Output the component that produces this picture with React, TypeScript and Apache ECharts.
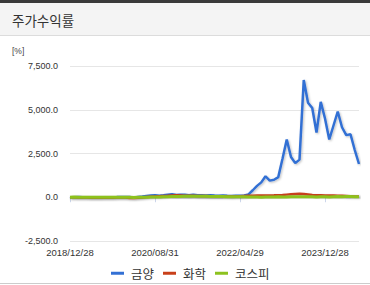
import React, { useEffect, useRef } from "react";
import * as echarts from "echarts";

const dates: string[] = [
  "2018/12/28",
  "2019/01/31", "2019/02/28", "2019/03/29", "2019/04/30", "2019/05/31", "2019/06/28",
  "2019/07/31", "2019/08/30", "2019/09/30", "2019/10/31", "2019/11/29", "2019/12/30",
  "2020/01/31", "2020/02/28", "2020/03/31", "2020/04/29", "2020/05/29", "2020/06/30",
  "2020/07/31", "2020/08/31", "2020/09/29", "2020/10/30", "2020/11/30", "2020/12/30",
  "2021/01/29", "2021/02/26", "2021/03/31", "2021/04/30", "2021/05/31", "2021/06/30",
  "2021/07/30", "2021/08/31", "2021/09/30", "2021/10/29", "2021/11/30", "2021/12/30",
  "2022/01/28", "2022/02/28", "2022/03/31", "2022/04/29", "2022/05/31", "2022/06/30",
  "2022/07/29", "2022/08/31", "2022/09/30", "2022/10/31", "2022/11/30", "2022/12/29",
  "2023/01/31", "2023/02/28", "2023/03/31", "2023/04/28", "2023/05/31", "2023/06/30",
  "2023/07/31", "2023/08/31", "2023/09/27", "2023/10/31", "2023/11/30", "2023/12/28",
  "2024/01/31", "2024/02/29", "2024/03/29", "2024/04/30", "2024/05/31", "2024/06/28",
  "2024/07/31", "2024/08/30",
];

const kumyang: number[] = [
  0, 3, 8, 5, -2, -8, -12, -10, -5, 2, 6, 10,
  15, 20, 10, -10, 15, 40, 70, 100, 120, 90, 110, 150,
  170, 130, 150, 140, 110, 150, 120, 110, 100, 120, 95, 90,
  100, 80, 75, 90, 80, 100, 160, 400, 650, 850, 1200, 950,
  1000, 1150, 2200, 3300, 2300, 1950, 2150, 6700, 5400, 5100, 3700, 5450,
  4500, 3300, 4100, 4900, 4000, 3550, 3600, 2700, 1900,
];

const chemical: number[] = [
  0, -5, -10, -15, -20, -25, -30, -28, -32, -30, -25, -20,
  -18, -20, -40, -50, -30, -10, 10, 30, 50, 60, 70, 80,
  100, 110, 100, 90, 85, 80, 75, 70, 65, 60, 55, 50,
  55, 50, 45, 50, 60, 70, 80, 90, 95, 100, 95, 105,
  110, 120, 130, 150, 170, 190, 200, 190, 160, 130, 110, 120,
  105, 95, 100, 85, 80, 70, 60, 50, 40,
];

const kospi: number[] = [
  0, 8, 7, 6, 5, 0, 3, -3, -4, 1, 0, 3,
  5, -1, -5, -17, -5, -1, 5, 15, 14, 16, 27, 35,
  48, 44, 48, 52, 55, 57, 60, 56, 60, 48, 44, 47,
  46, 31, 32, 35, 32, 30, 17, 20, 20, 6, 16, 20,
  15, 22, 18, 21, 24, 27, 26, 30, 32, 26, 17, 23,
  27, 20, 29, 38, 32, 36, 37, 33, 30,
];

const seriesNames = ["금양", "화학", "코스피"];
const seriesColors = ["#3370d4", "#c8401a", "#8dc21f"];
const yTicks = { min: -2500, max: 7500, interval: 2500 };

export default function App() {
  const ref = useRef<HTMLDivElement>(null);
  useEffect(() => {
    document.body.style.margin = "0";
    const chart = echarts.init(ref.current!, undefined, { renderer: "svg" });
    const dataSets = [kumyang, chemical, kospi];
    const shadow = {
      shadowColor: "rgba(0,0,0,0.25)",
      shadowBlur: 2,
      shadowOffsetX: 1,
      shadowOffsetY: 1,
    };
    chart.setOption({
      animation: false,
      graphic: [
        { type: "rect", shape: { x: 0, y: 0, width: 370, height: 3 }, style: { fill: "#3a3a3a" }, silent: true },
        { type: "rect", shape: { x: 0, y: 3, width: 370, height: 32 }, style: { fill: "#f4f4f4" }, silent: true },
        { type: "line", shape: { x1: 0, y1: 35.5, x2: 370, y2: 35.5 }, style: { stroke: "#dcdcdc", lineWidth: 1 }, silent: true },
        {
          type: "text", x: 12, y: 20,
          style: { text: "주가수익률", fontSize: 13.5, fill: "#333", verticalAlign: "middle", fontFamily: "Noto Sans CJK KR", letterSpacing: 0.5 },
          silent: true,
        },
        {
          type: "text", x: 12, y: 51,
          style: { text: "[%]", fontSize: 8.5, fill: "#444", verticalAlign: "middle", fontFamily: "Liberation Sans" },
          silent: true,
        },
        { type: "line", shape: { x1: 0, y1: 283.5, x2: 370, y2: 283.5 }, style: { stroke: "#cccccc", lineWidth: 1 }, silent: true },
      ],
      grid: { left: 70, right: 11, top: 66, bottom: 44, containLabel: false },
      legend: {
        data: seriesNames.map((n, i) => ({ name: n, icon: "rect", itemStyle: { color: seriesColors[i] } })),
        left: 106,
        top: 262,
        itemWidth: 13,
        itemHeight: 3,
        itemGap: 9,
        textStyle: { fontSize: 12.5, color: "#333", fontFamily: "Noto Sans CJK KR", padding: [0, 0, 0, 2] },
      },
      xAxis: {
        type: "category",
        data: dates,
        boundaryGap: false,
        axisLine: { lineStyle: { color: "#ccd6eb", width: 1 } },
        axisTick: { show: true, interval: 19, length: 5, lineStyle: { color: "#ccd6eb" } },
        axisLabel: { interval: 19, fontSize: 9.5, color: "#333", margin: 6, fontFamily: "Liberation Sans" },
        splitLine: { show: false },
      },
      yAxis: {
        type: "value",
        min: yTicks.min,
        max: yTicks.max,
        interval: yTicks.interval,
        axisLine: { show: false },
        axisTick: { show: false },
        axisLabel: {
          fontSize: 9,
          color: "#333",
          margin: 12,
          fontFamily: "Liberation Sans",
          formatter: (v: number) =>
            v.toLocaleString("en-US", { minimumFractionDigits: 1, maximumFractionDigits: 1 }),
        },
        splitLine: { lineStyle: { color: "#e6e6e6", width: 1 } },
      },
      series: seriesNames.map((n, i) => ({
        name: n,
        type: "line",
        data: dataSets[i],
        symbol: "none",
        lineStyle: { color: seriesColors[i], width: i === 2 ? 3 : 2.5, ...shadow },
        itemStyle: { color: seriesColors[i] },
        z: 2 + i,
      })),
    });
    return () => chart.dispose();
  }, []);
  return (
    <div style={{ position: "absolute", left: 0, top: 0, width: 370, height: 285, background: "#fff" }}>
      <div ref={ref} style={{ width: 370, height: 285 }} />
    </div>
  );
}
